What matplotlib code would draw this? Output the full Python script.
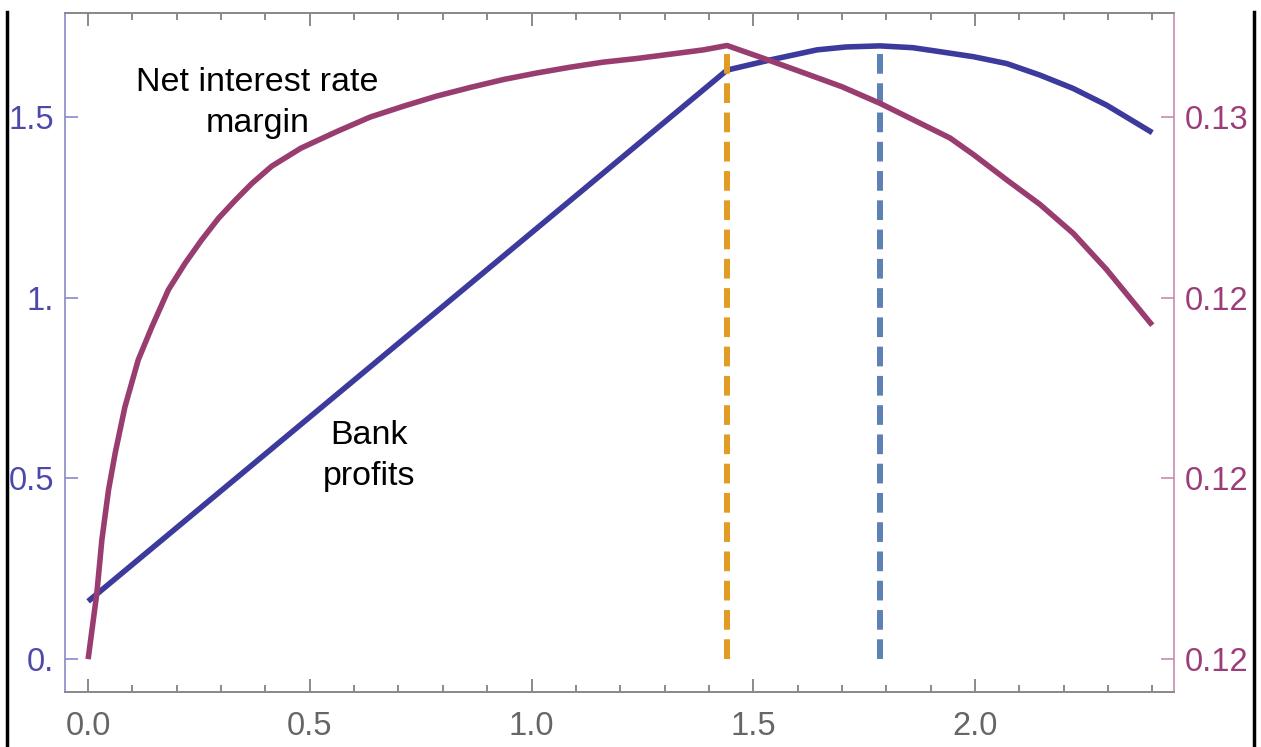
import numpy as np
import matplotlib
matplotlib.use('Agg')
import matplotlib.pyplot as plt
from matplotlib.lines import Line2D

# bank profits (left axis)
profit_x = [0.0, 0.5, 1.0, 1.441, 1.5, 1.538, 1.644, 1.71, 1.786, 1.86, 1.921, 1.997,
            2.072, 2.147, 2.222, 2.297, 2.4]
profit_y = [0.16, 0.67, 1.18, 1.63, 1.647, 1.658, 1.686, 1.694, 1.697, 1.692, 1.681, 1.667,
            1.648, 1.616, 1.579, 1.533, 1.457]

# net interest rate margin (right axis)
nim_x = [0.0, 0.0196, 0.031, 0.046, 0.061, 0.083, 0.113, 0.144, 0.181, 0.219, 0.256,
         0.294, 0.332, 0.369, 0.414, 0.48, 0.561, 0.636, 0.711, 0.786, 0.862, 0.937,
         1.012, 1.087, 1.162, 1.237, 1.313, 1.388, 1.441, 1.52, 1.606, 1.7, 1.786,
         1.944, 1.997, 2.072, 2.147, 2.222, 2.297, 2.4]
nim_y = [0.11750, 0.11841, 0.11915, 0.11984, 0.12035, 0.12099, 0.12164, 0.12210, 0.12261,
         0.12298, 0.12330, 0.12360, 0.12385, 0.12408, 0.12432, 0.12457, 0.12480, 0.12500,
         0.12515, 0.12529, 0.12541, 0.12552, 0.12561, 0.12569, 0.12576, 0.12581, 0.12587,
         0.12593, 0.12599, 0.12582, 0.12563, 0.12542, 0.12519, 0.12471, 0.12448, 0.12413,
         0.12379, 0.12339, 0.12289, 0.12212]

# optimum markers
nim_opt_x = 1.441
profit_opt_x = 1.786

left_ticks = [0.0, 0.5, 1.0, 1.5]
left_labels = ['0.', '0.5', '1.', '1.5']
right_ticks = [0.1175, 0.12, 0.1225, 0.125]
right_labels = ['0.12', '0.12', '0.12', '0.13']
x_ticks = [0.0, 0.5, 1.0, 1.5, 2.0]
x_labels = ['0.0', '0.5', '1.0', '1.5', '2.0']

BLUE = '#3c3a9c'
PURPLE = '#993d71'
ORANGE = '#e19c24'
STEEL = '#5e81b5'

plt.rcParams['font.family'] = ['Liberation Sans', 'DejaVu Sans']

fig = plt.figure(figsize=(12.61, 7.47), dpi=100, facecolor='white')
ax = fig.add_axes([0.0516, 0.0736, 0.8794, 0.909])
ax2 = ax.twinx()

ylo, yhi = -0.091, 1.788
ax.set_xlim(-0.052, 2.449)
ax.set_ylim(ylo, yhi)
# right axis: nim = 0.1175 + 0.005 * left
ax2.set_ylim(0.1175 + 0.005 * ylo, 0.1175 + 0.005 * yhi)

ax.plot(profit_x, profit_y, color=BLUE, lw=4.0, solid_capstyle='butt',
        solid_joinstyle='round', zorder=3)
ax2.plot(nim_x, nim_y, color=PURPLE, lw=4.0, solid_capstyle='butt',
         solid_joinstyle='round', zorder=3)

ax.plot([nim_opt_x, nim_opt_x], [0.0, max(profit_y)], color=ORANGE, lw=4.3,
        dashes=(3.3, 1.6), zorder=4)
ax.plot([profit_opt_x, profit_opt_x], [0.0, max(profit_y)], color=STEEL, lw=4.3,
        dashes=(3.3, 1.6), zorder=4)

ax.text(0.382, 1.539, 'Net interest rate\nmargin', ha='center', va='center',
        fontsize=24.5, linespacing=1.44)
ax.text(0.634, 0.562, 'Bank\nprofits', ha='center', va='center',
        fontsize=24.5, linespacing=1.44)

# axes styling
ax.set_xticks(x_ticks)
ax.set_xticklabels(x_labels)
ax.set_xticks(np.arange(0.0, 2.45, 0.1), minor=True)
ax.set_yticks(left_ticks)
ax.set_yticklabels(left_labels)
ax2.set_yticks(right_ticks)
ax2.set_yticklabels(right_labels)

ax.tick_params(axis='x', which='major', direction='in', top=True, length=9.5,
               width=1.2, color='#777777', labelcolor='#666666', labelsize=23.5, pad=14)
ax.tick_params(axis='x', which='minor', direction='in', top=True, length=5,
               width=1.2, color='#777777')
ax.tick_params(axis='y', direction='in', length=9.5, width=1.2, color='#8a87cc',
               labelcolor='#4c49a8', labelsize=23.5, pad=8)
ax2.tick_params(axis='y', direction='in', length=9.5, width=1.2, color='#c98ab5',
                labelcolor='#9b3d78', labelsize=23.5, pad=8)

for a in (ax, ax2):
    a.spines['top'].set_color('#888888')
    a.spines['bottom'].set_color('#888888')
    for s in a.spines.values():
        s.set_linewidth(1.2)
ax.spines['left'].set_color('#8a87cc')
ax2.spines['left'].set_visible(False)
ax.spines['right'].set_visible(False)
ax2.spines['right'].set_color('#c98ab5')

# black border strokes at the image edges
fig.add_artist(Line2D([6.5 / 1261, 6.5 / 1261], [0, 1 - 12 / 747], color='black', lw=2.5))
fig.add_artist(Line2D([1253.5 / 1261, 1253.5 / 1261], [0, 1 - 12 / 747], color='black', lw=2.5))

fig.savefig('out.png', dpi=100, facecolor='white')
plt.close(fig)
